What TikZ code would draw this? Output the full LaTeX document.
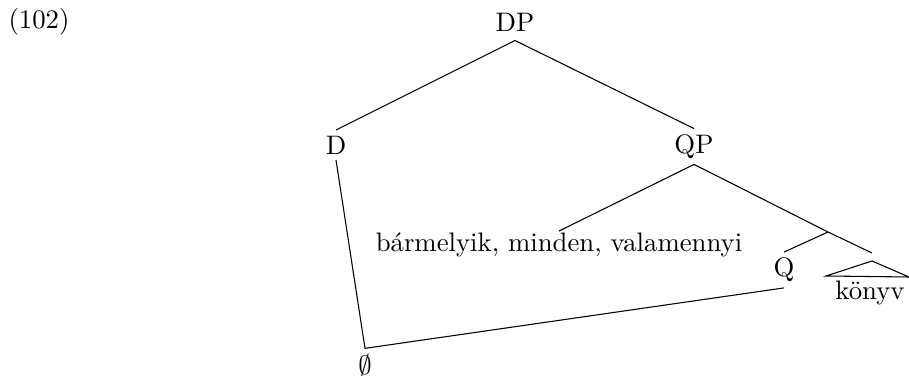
\documentclass[tikz,border=0pt]{standalone}
\begin{document}
\begin{tikzpicture}[x=0.3738pt,y=-0.3738pt,
    every node/.style={inner sep=2pt}]
  \useasboundingbox (0,0) rectangle (909,376);
  \node (ex) at (39,22) {(102)};
  \node[inner sep=3.3pt] (DP) at (515,22) {DP};
  \node (D) at (336,145) {D};
  \node (QP) at (694,146.5) {QP};
  \node[inner sep=0.5pt] (quant) at (559,245) {bármelyik, minden, valamennyi};
  \coordinate (Qbar) at (828,232);
  \coordinate (NP) at (872,253);
  \node (Q) at (784,270) {Q};
  \node (N) at (870,293) {könyv};
  \node (empty) at (365,365) {$\emptyset$};
  \draw (DP.south) -- (D.north);
  \draw (DP.south) -- (QP.north);
  \draw (QP.south) -- (quant.north);
  \draw (QP.south) -- (Qbar) -- (NP);
  \draw (Qbar) -- (Q.north);
  \draw (826,276) -- (872,261) -- (909,277) -- cycle;
  \draw (D.south) -- (empty.north) -- (Q.south);
\end{tikzpicture}
\end{document}
